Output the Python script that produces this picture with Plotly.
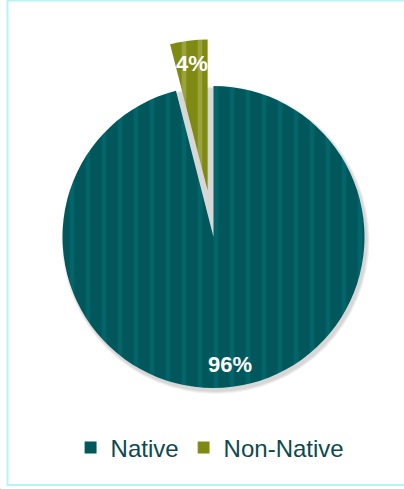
import math
import plotly.graph_objects as go

# Share of native vs non-native (percent)
labels = ["Native", "Non-Native"]
values = [96, 4]
colors = ["#00585c", "#7f8a12"]
stripe_colors = ["#03656a", "#9aa23e"]

W, H = 404, 489
R = 151                      # pie radius, px
CX, CY = 213.5, 237          # pie centre, px from top-left
PULL = 0.31                  # pulled-out distance for the small slice, as share of R

total = sum(values)
# slice mid-angles (clockwise from 12 o'clock)
mids = []
start = 0.0
for v in values:
    span = 360.0 * v / total
    mids.append(start + span / 2)
    start += span


def dom(cx, cy, r):
    return dict(x=[(cx - r) / W, (cx + r) / W],
                y=[(H - cy - r) / H, (H - cy + r) / H])


# centre of the pulled-out slice
off = PULL * R
pcx = CX + off * math.sin(math.radians(mids[1]))
pcy = CY - off * math.cos(math.radians(mids[1]))

pattern = dict(shape="|", size=16, solidity=0.28, fillmode="replace")

fig = go.Figure()
# main slice
fig.add_trace(go.Pie(
    labels=labels, values=values, sort=False, direction="clockwise", rotation=0,
    domain=dom(CX, CY, R),
    marker=dict(colors=[colors[0], "rgba(0,0,0,0)"],
                line=dict(width=0),
                pattern=dict(**pattern, fgcolor=[stripe_colors[0], "rgba(0,0,0,0)"],
                             bgcolor=[colors[0], "rgba(0,0,0,0)"])),
    textinfo="none", hoverinfo="label+percent", showlegend=False,
))
# pulled-out slice
fig.add_trace(go.Pie(
    labels=labels, values=values, sort=False, direction="clockwise", rotation=0,
    domain=dom(pcx, pcy, R),
    marker=dict(colors=["rgba(0,0,0,0)", colors[1]],
                line=dict(width=0),
                pattern=dict(**pattern, fgcolor=["rgba(0,0,0,0)", stripe_colors[1]],
                             bgcolor=["rgba(0,0,0,0)", colors[1]])),
    textinfo="none", hoverinfo="label+percent", showlegend=False,
))
# legend entries
fig.add_trace(go.Pie(
    labels=labels, values=values, sort=False,
    domain=dict(x=[0, 0.001], y=[0, 0.001]),
    marker=dict(colors=colors, pattern=dict(**pattern, fgcolor=stripe_colors, bgcolor=colors)),
    textinfo="none", hoverinfo="skip", showlegend=True,
))

# percentage labels
anns = []
centres = [(CX, CY), (pcx, pcy)]
for i, v in enumerate(values):
    cx, cy = centres[i]
    rr = 0.85 * R
    x = cx + rr * math.sin(math.radians(mids[i]))
    y = cy - rr * math.cos(math.radians(mids[i]))
    anns.append(dict(x=x / W, y=(H - y) / H, xref="paper", yref="paper",
                     xanchor="center", yanchor="middle",
                     text=f"<b>{round(100 * v / total)}%</b>", showarrow=False,
                     font=dict(family="Liberation Sans, Arial", size=22, color="white")))

# soft drop shadow under the pie
shapes = []
for k, a in enumerate([0.05, 0.05, 0.06]):
    g = 3 - k
    shapes.append(dict(type="circle", xref="paper", yref="paper", layer="below",
                       x0=(CX - R + 2 - g) / W, x1=(CX + R + 2 + g) / W,
                       y0=(H - CY - R - 3 - g) / H, y1=(H - CY + R - 3 + g) / H,
                       fillcolor=f"rgba(0,0,0,{a})", line=dict(width=0)))
# chart frame
shapes.append(dict(type="rect", xref="paper", yref="paper",
                   x0=7.5 / W, x1=1.05, y0=4 / H, y1=1 - 0.5 / H,
                   line=dict(color="#b8f4f6", width=2), fillcolor="rgba(0,0,0,0)"))

fig.update_layout(
    width=W, height=H, margin=dict(l=0, r=0, t=0, b=0),
    paper_bgcolor="white", plot_bgcolor="white",
    annotations=anns, shapes=shapes,
    legend=dict(orientation="h", x=0.52, xanchor="center", y=(H - 448) / H, yanchor="middle",
                font=dict(family="Liberation Sans, Arial", size=24, color="#0d4a4f"),
                itemwidth=30, traceorder="normal"),
)

fig.write_html("out.html")
